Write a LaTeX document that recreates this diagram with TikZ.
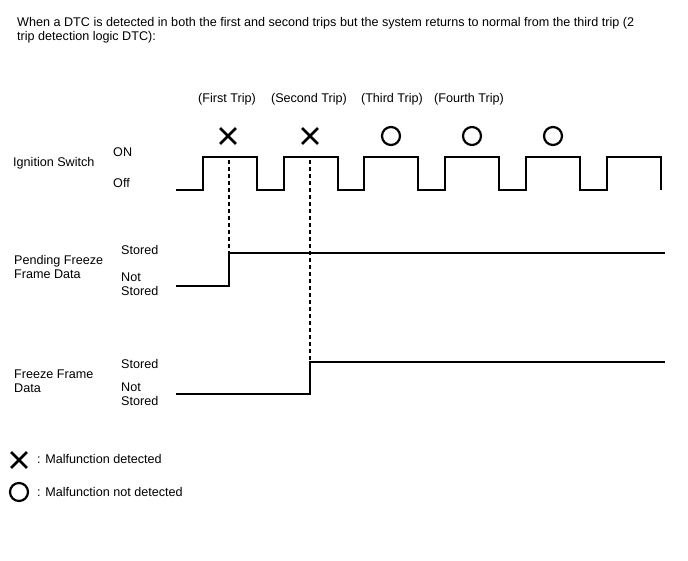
\documentclass[tikz,border=0pt]{standalone}
\usepackage{fontspec}
\setmainfont{Liberation Sans}
\usetikzlibrary{positioning, shapes.misc}

\begin{document}
\begin{tikzpicture}[
    x=1pt, y=-1pt,
    txt/.style={font=\fontsize{12.6}{14}\selectfont, inner sep=0pt, anchor=west, align=left},
    wave/.style={line width=1.8pt, line join=miter},
    guide/.style={dash pattern=on 4pt off 3pt, line width=1.1pt},
    ngmark/.style={cross out, draw, line width=2.8pt, minimum size=13pt, inner sep=0pt},
    okmark/.style={circle, draw, line width=2.2pt, minimum size=18pt, inner sep=0pt}
]
\useasboundingbox (0,0) rectangle (688,560);

% TITLE
\node[txt, anchor=north west] (title) at (17,17) {When a DTC is detected in both the first and second trips but the system returns to normal from the third trip (2\\trip detection logic DTC):};

% TRIP LABELS
\node[txt, anchor=center] (trip1) at (227,99) {(First Trip)};
\node[txt, anchor=center] (trip2) at (309,99) {(Second Trip)};
\node[txt, anchor=center] (trip3) at (392,99) {(Third Trip)};
\node[txt, anchor=center] (trip4) at (469,99) {(Fourth Trip)};

% MARKERS
\node[ngmark] (m1) at (228,136) {};
\node[ngmark] (m2) at (310,136) {};
\node[okmark] (m3) at (391,136) {};
\node[okmark] (m4) at (472,136) {};
\node[okmark] (m5) at (553,136) {};

% IGNITION SWITCH
\node[txt] (ig) at (13,163) {Ignition Switch};
\node[txt] (on) at (113,152) {ON};
\node[txt] (off) at (113,183) {Off};
\draw[wave] (176,190)
    \foreach \x in {203,284,364,445,526,607} { -- (\x,190) -- (\x,157) -- ++(54,0) -- ++(0,33) };

% PENDING FREEZE FRAME DATA
\node[txt] (pend) at (14,267) {Pending Freeze\\Frame Data};
\node[txt] (pst) at (121,250) {Stored};
\node[txt] (pnst) at (121,284) {Not\\Stored};
\coordinate (p0) at (176,286);
\coordinate (p1) at (229,286);
\coordinate (p2) at (229,253);
\coordinate (p3) at (665,253);
\draw[wave] (p0) -- (p1) -- (p2) -- (p3);

% FREEZE FRAME DATA
\node[txt] (frz) at (14,381) {Freeze Frame\\Data};
\node[txt] (fst) at (121,364) {Stored};
\node[txt] (fnst) at (121,394) {Not\\Stored};
\coordinate (f0) at (176,394);
\coordinate (f1) at (310,394);
\coordinate (f2) at (310,362);
\coordinate (f3) at (665,362);
\draw[wave] (f0) -- (f1) -- (f2) -- (f3);

% Guides
\coordinate (g1) at (229,160);
\coordinate (g2) at (310,160);
\draw[guide] (g1) -- (p2);
\draw[guide] (g2) -- (f2);

% LEGEND
\node[ngmark] (lx) at (19,460) {};
\node[okmark] (lo) at (19,492) {};
\node[txt] (lxt) at (37,459) {: Malfunction detected};
\node[txt] (lot) at (37,492) {: Malfunction not detected};

\end{tikzpicture}
\end{document}
